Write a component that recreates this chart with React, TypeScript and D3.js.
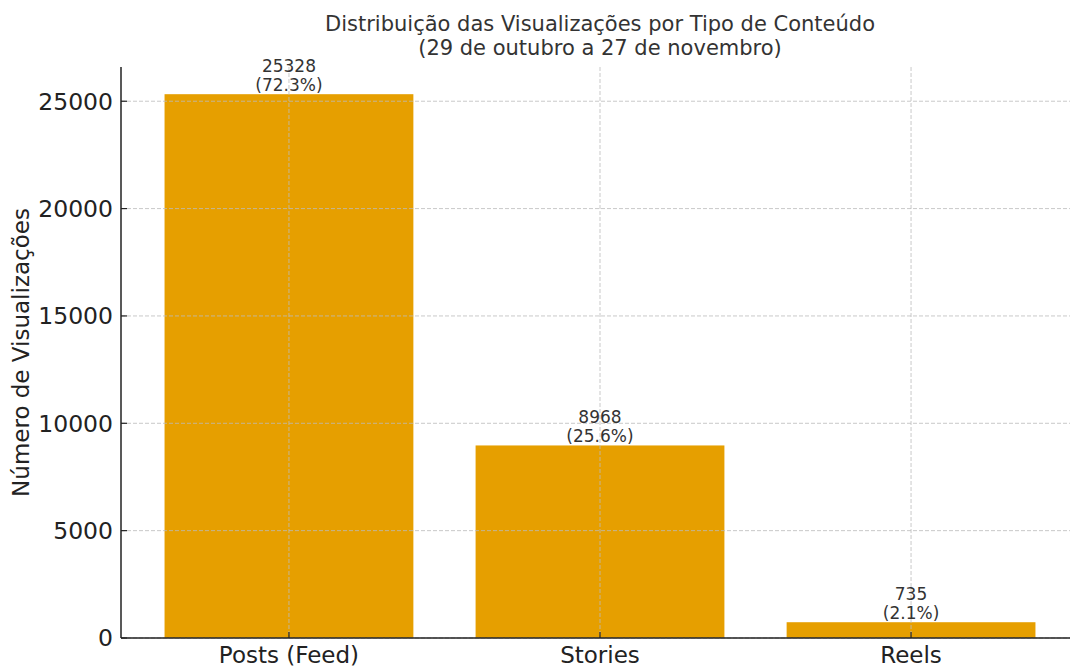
import React from 'react'
import * as d3 from 'd3'

const categories = ['Posts (Feed)', 'Stories', 'Reels']
const views = [25328, 8968, 735]
const shares = ['72.3%', '25.6%', '2.1%']
const yTicks = [0, 5000, 10000, 15000, 20000, 25000]

const W = 1070, H = 666
const left = 121, right = 1079, top = 67, bottom = 638
const font = 'DejaVu Sans, sans-serif'

const App = () => {
    const x = d3.scaleLinear().domain([-0.54, categories.length - 1 + 0.54]).range([left, right])
    const yMax = d3.max(views) * 1.05
    const y = d3.scaleLinear().domain([0, yMax]).range([bottom, top])
    const barW = x(0.4) - x(-0.4)

    return (
        <svg width={W} height={H} style={{ position: 'absolute', left: 0, top: 0 }} fontFamily={font}>
            <rect width={W} height={H} fill="#fff" />
            <text x={600} y={31} textAnchor="middle" fontSize={21} fill="#333">Distribuição das Visualizações por Tipo de Conteúdo</text>
            <text x={600} y={55} textAnchor="middle" fontSize={21} fill="#333">(29 de outubro a 27 de novembro)</text>

            {views.map((v, i) => (
                <rect key={i} x={x(i) - barW / 2} y={y(v)} width={barW} height={y(0) - y(v)} fill="#E69F00" />
            ))}

            {/* grid over the bars */}
            {yTicks.map(t => (
                <line key={t} x1={left} x2={right} y1={y(t)} y2={y(t)} stroke="#bbb" strokeOpacity={0.8} strokeDasharray="4,2" />
            ))}
            {categories.map((c, i) => (
                <line key={c} x1={x(i)} x2={x(i)} y1={top} y2={bottom} stroke="#bbb" strokeOpacity={0.8} strokeDasharray="4,2" />
            ))}

            {views.map((v, i) => (
                <g key={i} fontSize={17} fill="#333" textAnchor="middle">
                    <text x={x(i)} y={y(v) - 22}>{v}</text>
                    <text x={x(i)} y={y(v) - 3}>({shares[i]})</text>
                </g>
            ))}

            <line x1={left} x2={left} y1={top} y2={bottom} stroke="#222" strokeWidth={1.5} />
            <line x1={left} x2={right} y1={bottom} y2={bottom} stroke="#222" strokeWidth={1.5} />

            {yTicks.map(t => (
                <g key={t}>
                    <line x1={left} x2={left + 6} y1={y(t)} y2={y(t)} stroke="#222" strokeWidth={1.2} />
                    <text x={left - 8} y={y(t)} dy="0.36em" textAnchor="end" fontSize={23.5} fill="#222">{t}</text>
                </g>
            ))}
            {categories.map((c, i) => (
                <g key={c}>
                    <line x1={x(i)} x2={x(i)} y1={bottom} y2={bottom - 6} stroke="#222" strokeWidth={1.2} />
                    <text x={x(i)} y={663} textAnchor="middle" fontSize={23} fill="#222">{c}</text>
                </g>
            ))}

            <text transform={`translate(29,${(top + bottom) / 2}) rotate(-90)`} textAnchor="middle" fontSize={23} fill="#222">Número de Visualizações</text>
        </svg>
    )
}

export default App
